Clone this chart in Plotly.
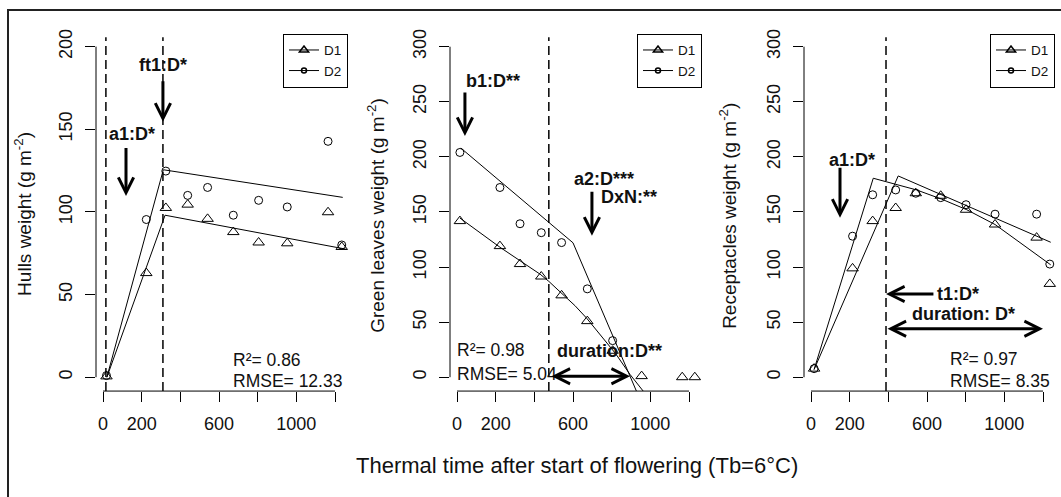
import plotly.graph_objects as go

# ---- Data -------------------------------------------------------------
# Hulls
hull_tt = [18, 224, 325, 438, 541, 674, 805, 953, 1164, 1235]
hull_d1 = [0.5, 63, 102.4, 104.4, 95.8, 87.8, 81.5, 81, 99.8, 78.8]
hull_d2 = [1, 95.4, 124.7, 110, 114.8, 98, 107, 103, 142.7, 80]
hull_fit_d1_x = [20, 321, 1255]
hull_fit_d1_y = [0, 98, 77.5]
hull_fit_d2_x = [20, 312, 1240]
hull_fit_d2_y = [0, 125.5, 108.8]
hull_vlines = [15, 310]

# Green leaves
leaf_tt = [15, 222, 326, 436, 541, 674, 805, 955, 1165, 1230]
leaf_d1 = [141.7, 119, 102.7, 91.4, 74.3, 50.9, 24, 1, 0, 0]
leaf_tt_d2 = [15, 222, 326, 436, 541, 674, 805]
leaf_d2 = [204, 172.2, 139.3, 131.2, 122.2, 80.2, 33.2]
leaf_fit_d1_x = [15, 222, 430, 475, 533, 610, 671, 750, 820, 895, 965]
leaf_fit_d1_y = [144.5, 118, 93.5, 87, 77.5, 65, 53.5, 37, 21.5, 2.5, -13]
leaf_fit_d2_x = [20, 600, 929]
leaf_fit_d2_y = [208, 122, -13]
leaf_vlines = [475]

# Receptacles
rec_tt = [16, 215, 319, 438, 542, 671, 802, 952, 1167, 1235]
rec_d1 = [7.8, 98.8, 141.7, 153.6, 167, 164.7, 152, 138.6, 126.7, 84.7]
rec_d2 = [7.8, 128, 165.6, 170, 167, 163, 156.6, 148, 148, 102.7]
rec_fit_d1_x = [16, 451, 1240]
rec_fit_d1_y = [7, 182.7, 122.5]
rec_fit_d2_x = [16, 322, 546, 675, 806, 952, 1240]
rec_fit_d2_y = [7, 180.6, 170, 161.7, 152, 138.6, 102]
rec_vlines = [388]

# labelled and unlabelled x ticks (labels that would collide are dropped)
x_label_ticks = [0, 200, 600, 1000]
x_other_ticks = [400, 800, 1200]

# ---- Layout helpers ---------------------------------------------------
W, H = 1061, 497
FONT = "Arial, Liberation Sans, sans-serif"
INK = "#111111"


def px_x(p):
    return p / W


def px_y(p):
    return 1 - p / H


fig = go.Figure()

panels = [
    dict(n="", xdom=(96, 354), xr=(-36.2, 1298.3), yr=(-8.38, 207.8),
         yticks=[0, 50, 100, 150, 200], tt=hull_tt, d1=hull_d1, tt2=hull_tt, d2=hull_d2,
         f1=(hull_fit_d1_x, hull_fit_d1_y), f2=(hull_fit_d2_x, hull_fit_d2_y),
         vl=hull_vlines, legend="legend", lx=283,
         title="Hulls weight (g m<sup>-2</sup>)", tx=23, ty=211),
    dict(n="2", xdom=(450, 708), xr=(-36.2, 1298.3), yr=(-12.58, 311.8),
         yticks=[0, 50, 100, 150, 200, 250, 300], tt=leaf_tt, d1=leaf_d1, tt2=leaf_tt_d2, d2=leaf_d2,
         f1=(leaf_fit_d1_x, leaf_fit_d1_y), f2=(leaf_fit_d2_x, leaf_fit_d2_y),
         vl=leaf_vlines, legend="legend2", lx=637,
         title="Green leaves weight (g m<sup>-2</sup>)", tx=376, ty=213),
    dict(n="3", xdom=(804, 1061), xr=(-36.2, 1293.1), yr=(-12.58, 311.8),
         yticks=[0, 50, 100, 150, 200, 250, 300], tt=rec_tt, d1=rec_d1, tt2=rec_tt, d2=rec_d2,
         f1=(rec_fit_d1_x, rec_fit_d1_y), f2=(rec_fit_d2_x, rec_fit_d2_y),
         vl=rec_vlines, legend="legend3", lx=990,
         title="Receptacles weight (g m<sup>-2</sup>)", tx=728, ty=213),
]

shapes = []
annotations = []

for p in panels:
    xa, ya = "x" + p["n"], "y" + p["n"]
    line = dict(color="black", width=1)
    # fitted curves
    fig.add_trace(go.Scatter(x=p["f1"][0], y=p["f1"][1], mode="lines", line=line,
                             xaxis=xa, yaxis=ya, showlegend=False, hoverinfo="skip"))
    fig.add_trace(go.Scatter(x=p["f2"][0], y=p["f2"][1], mode="lines", line=line,
                             xaxis=xa, yaxis=ya, showlegend=False, hoverinfo="skip"))
    # observations
    fig.add_trace(go.Scatter(x=p["tt"], y=p["d1"], mode="markers", xaxis=xa, yaxis=ya,
                             marker=dict(symbol="triangle-up-open", size=10, color="black",
                                         line=dict(width=1, color="black")),
                             showlegend=False, cliponaxis=False))
    fig.add_trace(go.Scatter(x=p["tt2"], y=p["d2"], mode="markers", xaxis=xa, yaxis=ya,
                             marker=dict(symbol="circle-open", size=8, color="black",
                                         line=dict(width=1, color="black")),
                             showlegend=False, cliponaxis=False))
    # legend entries
    fig.add_trace(go.Scatter(x=[None], y=[None], mode="lines+markers", name="D1",
                             xaxis=xa, yaxis=ya, legend=p["legend"], line=line,
                             marker=dict(symbol="triangle-up-open", size=8, color="black",
                                         line=dict(width=1.5, color="black"))))
    fig.add_trace(go.Scatter(x=[None], y=[None], mode="lines+markers", name="D2",
                             xaxis=xa, yaxis=ya, legend=p["legend"], line=line,
                             marker=dict(symbol="circle-open", size=5, color="black",
                                         line=dict(width=1.5, color="black"))))

    # axes
    xkey = "xaxis" + p["n"]
    ykey = "yaxis" + p["n"]
    fig.update_layout({
        xkey: dict(domain=[px_x(p["xdom"][0]), px_x(p["xdom"][1])], range=list(p["xr"]),
                   anchor=ya, showgrid=False, zeroline=False, showline=False,
                   tickmode="array", tickvals=x_label_ticks,
                   ticks="outside", ticklen=10, tickwidth=1, tickcolor="black",
                   minor=dict(tickmode="array", tickvals=x_other_ticks, ticks="outside",
                              ticklen=10, tickwidth=1, tickcolor="black", showgrid=False),
                   ticklabelstandoff=6, tickfont=dict(family=FONT, size=18, color=INK)),
        ykey: dict(domain=[px_y(390), px_y(29)], range=list(p["yr"]),
                   anchor=xa, showgrid=False, zeroline=False, showline=False,
                   tickmode="array", tickvals=p["yticks"], tickangle=-90,
                   ticks="outside", ticklen=10, tickwidth=1, tickcolor="black",
                   ticklabelstandoff=6, tickfont=dict(family=FONT, size=18, color=INK)),
        p["legend"]: dict(x=px_x(p["lx"]), y=px_y(29), xanchor="left", yanchor="top",
                          bordercolor="black", borderwidth=1, bgcolor="white",
                          font=dict(family=FONT, size=13.5, color=INK),
                          tracegroupgap=0),
    })

    xref = "x" + p["n"] if p["n"] else "x"
    yref = "y" + p["n"] if p["n"] else "y"
    # R-style axis lines spanning first to last tick
    shapes.append(dict(type="line", xref=xref, yref=yref + " domain", x0=0, x1=1200, y0=0, y1=0,
                       line=dict(color="black", width=1)))
    shapes.append(dict(type="line", xref=xref + " domain", yref=yref, x0=0, x1=0,
                       y0=0, y1=p["yticks"][-1], line=dict(color="black", width=1)))
    # vertical dashed reference lines
    for v in p["vl"]:
        shapes.append(dict(type="line", xref=xref, yref=yref + " domain", x0=v, x1=v,
                           y0=0, y1=0.99, line=dict(color="black", width=1.5, dash="9px,5px")))
    # y-axis title
    annotations.append(dict(text=p["title"], x=px_x(p["tx"]), y=px_y(p["ty"]),
                            xref="paper", yref="paper", showarrow=False, textangle=-90,
                            xanchor="center", yanchor="middle",
                            font=dict(family=FONT, size=19, color=INK)))

# outer frame
shapes.append(dict(type="rect", xref="paper", yref="paper", x0=px_x(8), x1=1.05,
                   y0=-0.05, y1=px_y(5), line=dict(color="#222222", width=2)))


def label(text, x, y, ax="x", ay="y", bold=False, anchor="left", size=18):
    annotations.append(dict(text=f"<b>{text}</b>" if bold else text, x=x, y=y,
                            xref=ax, yref=ay, showarrow=False, xanchor=anchor,
                            yanchor="middle", font=dict(family=FONT, size=size, color=INK)))


def arrow(x, y, tx, ty, ax="x", ay="y", both=False):
    d = dict(x=x, y=y, ax=tx, ay=ty, xref=ax, yref=ay, axref=ax, ayref=ay, text="",
             showarrow=True, arrowhead=5, arrowsize=1, arrowwidth=3, arrowcolor="black",
             standoff=0, startstandoff=0)
    if both:
        d.update(arrowside="end+start", startarrowhead=5, startarrowsize=1)
    annotations.append(d)


# Hulls annotations
label("ft1:D*", 310, 188.6, bold=True, anchor="center")
arrow(310, 154.5, 310, 180)
label("a1:D*", 150, 147, bold=True, anchor="center")
arrow(119, 109.6, 119, 139.5)
label("R²= 0.86", 662, 10.2, size=17.5)
label("RMSE= 12.33", 662, -2.4, size=17.5)

# Green leaves annotations
label("b1:D**", 36, 268.6, "x2", "y2", bold=True)
arrow(41, 219, 41, 259.7, "x2", "y2")
label("a2:D***", 595, 179.5, "x2", "y2", bold=True)
label("DxN:**", 735, 163.5, "x2", "y2", bold=True)
arrow(698, 128.5, 698, 169.8, "x2", "y2")
label("R²= 0.98", -10, 24.3, "x2", "y2", size=17.5)
label("RMSE= 5.04", -10, 2.7, "x2", "y2", size=17.5)
label("duration:D**", 507, 23.4, "x2", "y2", bold=True)
arrow(895, 0.9, 481, 0.9, "x2", "y2", both=True)

# Receptacles annotations
label("a1:D*", 83, 196.8, "x3", "y3", bold=True)
arrow(150, 144.7, 150, 191.4, "x3", "y3")
label("t1:D*", 641, 75.5, "x3", "y3", bold=True)
arrow(388, 75.5, 641, 75.5, "x3", "y3")
label("duration: D*", 512, 57.5, "x3", "y3", bold=True)
arrow(1200, 44, 388, 44, "x3", "y3", both=True)
label("R²= 0.97", 709, 16.2, "x3", "y3", size=17.5)
label("RMSE= 8.35", 709, -3.6, "x3", "y3", size=17.5)

# shared x title
annotations.append(dict(text="Thermal time after start of flowering (Tb=6°C)",
                        x=px_x(576.5), y=px_y(465), xref="paper", yref="paper",
                        showarrow=False, xanchor="center", yanchor="middle",
                        font=dict(family=FONT, size=22, color=INK)))

fig.update_layout(width=W, height=H, margin=dict(l=0, r=0, t=0, b=0),
                  paper_bgcolor="white", plot_bgcolor="white",
                  shapes=shapes, annotations=annotations, showlegend=True)

fig.write_html("out.html")
